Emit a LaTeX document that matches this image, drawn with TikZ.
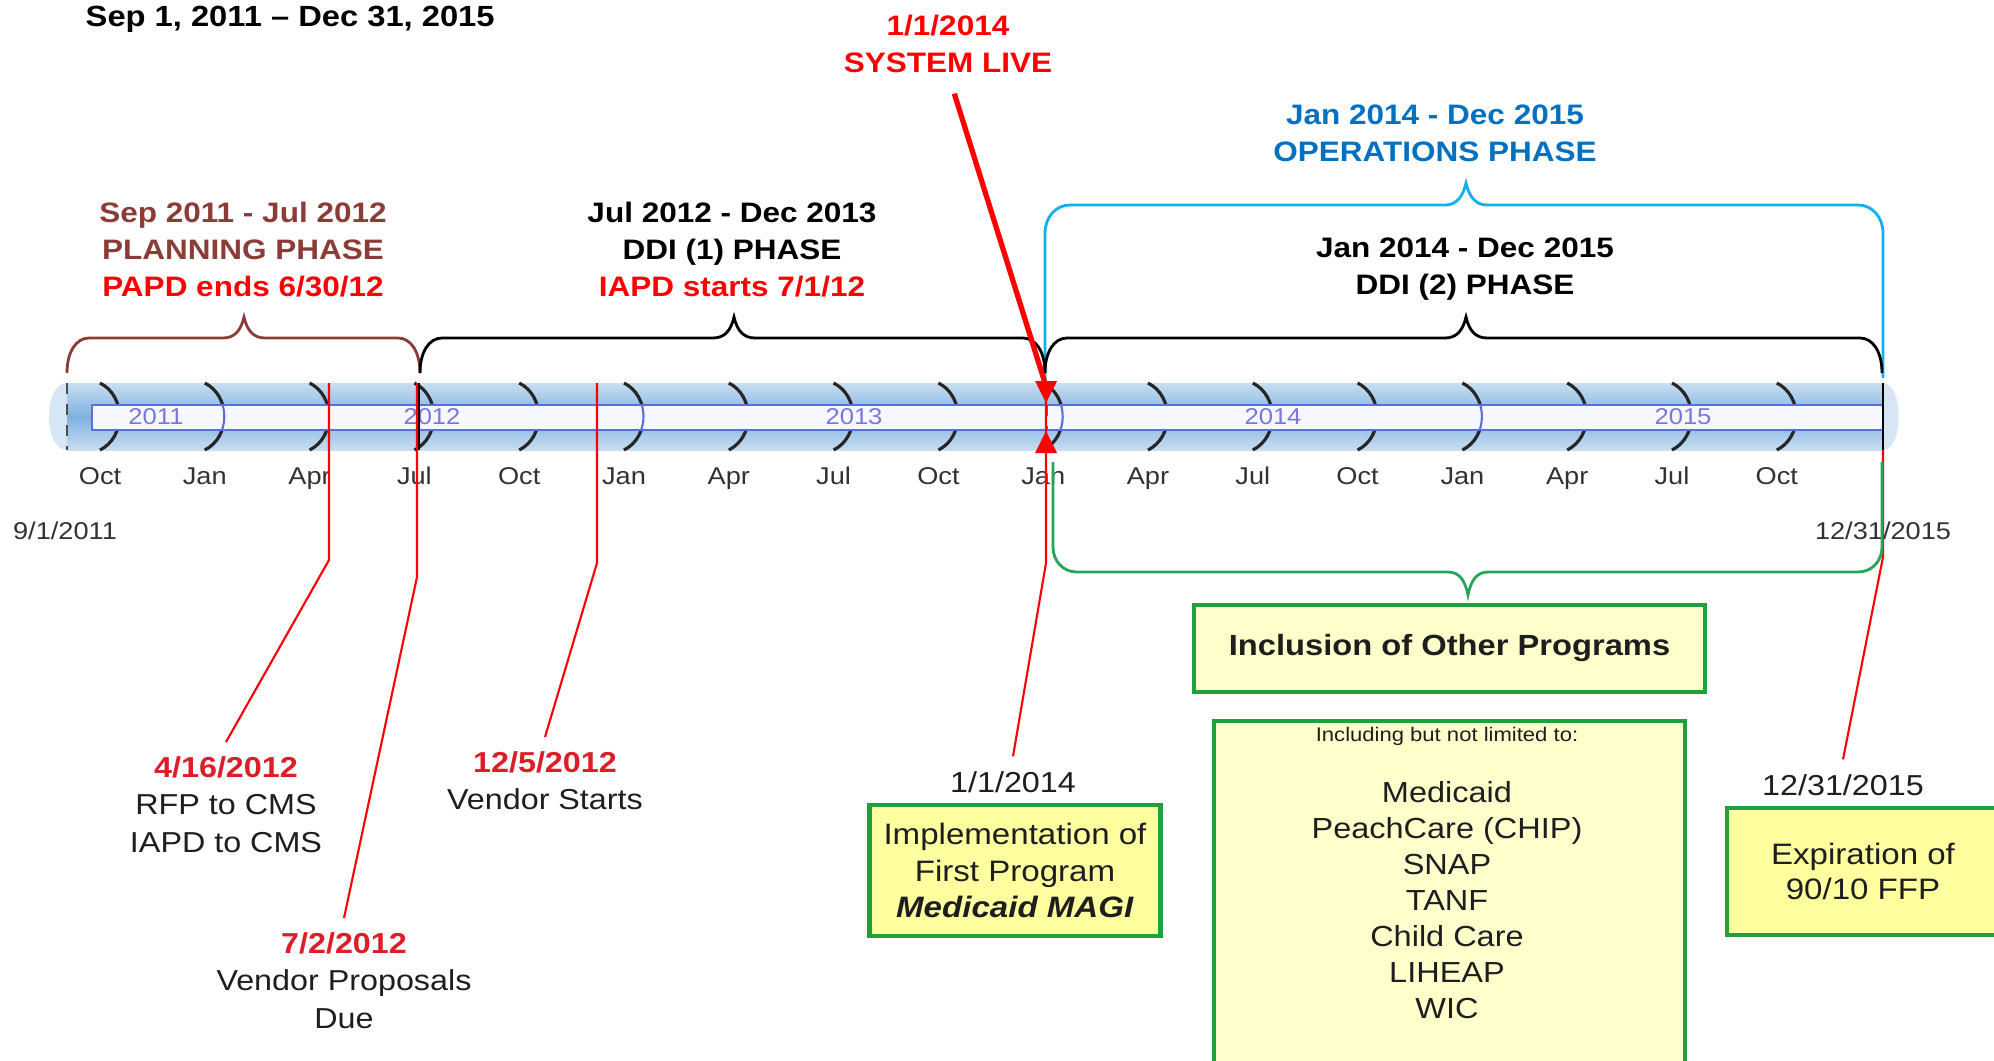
\documentclass[tikz,border=0pt]{standalone}
\usepackage{fontspec}
\setmainfont{Liberation Sans}[FakeStretch=1.12]
\usetikzlibrary{positioning}
\usetikzlibrary{calc}

\definecolor{planbrown}{RGB}{140,60,55}
\definecolor{opsline}{RGB}{20,175,238}
\definecolor{opstext}{RGB}{0,112,192}
\definecolor{incgreen}{RGB}{40,165,90}
\definecolor{boxgreen}{RGB}{30,160,60}
\definecolor{paleyellow}{RGB}{255,255,204}
\definecolor{boxyellow}{RGB}{255,255,160}
\definecolor{datered}{RGB}{220,30,40}
\definecolor{stripblue}{RGB}{90,110,220}
\definecolor{yeartext}{RGB}{120,120,220}
\definecolor{monthgray}{RGB}{50,50,50}
\definecolor{textgray}{RGB}{30,30,30}
\definecolor{barlight}{RGB}{200,222,242}
\definecolor{bardark}{RGB}{128,176,224}
\definecolor{barcap}{RGB}{214,230,244}

\newcommand{\evdate}[1]{{\color{datered}\bfseries #1}}

\begin{document}
\begin{tikzpicture}[x=0.01cm,y=-0.01cm,
        phaselbl/.style={font=\bfseries\fontsize{8}{10.5}\selectfont, align=center, inner sep=0pt, anchor=north},
        monthlbl/.style={font=\fontsize{6.9}{8}\selectfont, text=monthgray, inner sep=0pt, anchor=base},
        yearlbl/.style={font=\fontsize{6.5}{8}\selectfont, text=yeartext, inner sep=0pt, anchor=base},
        evtext/.style={font=\fontsize{8.2}{10.6}\selectfont, text=textgray, align=center, inner sep=4pt, anchor=north},
        evline/.style={red, line width=0.6pt},
        qtick/.style={black!85, line width=0.9pt},
        phasebrace/.style={draw=#1, line width=0.8pt},
        greenbox/.style={draw=boxgreen, line width=1.2pt, fill=#1, align=center, text=textgray},
    ]
    \useasboundingbox (0,0) rectangle (1994,1060);
    \clip (0,0) rectangle (1994,1060);

    % title and phase labels
    \node[font=\bfseries\fontsize{8.3}{10}\selectfont, anchor=base west, inner sep=0pt] (title) at (85,26) {Sep 1, 2011 -- Dec 31, 2015};
    \node[phaselbl, text=red] (live) at (948,14.5) {1/1/2014\\SYSTEM LIVE};
    \node[phaselbl, text=opstext] (ops) at (1435,104.5) {Jan 2014 - Dec 2015\\OPERATIONS PHASE};
    \node[phaselbl, text=planbrown] (plan) at (243,201.5) {Sep 2011 - Jul 2012\\PLANNING PHASE\\{\color{red}PAPD ends 6/30/12}};
    \node[phaselbl] (ddione) at (732,201.5) {Jul 2012 - Dec 2013\\DDI (1) PHASE\\{\color{red}IAPD starts 7/1/12}};
    \node[phaselbl] (dditwo) at (1465,237.5) {Jan 2014 - Dec 2015\\DDI (2) PHASE};

    % braces over the timeline
    \draw[phasebrace=opsline] (1045,378) -- (1045,233) .. controls (1045,217) and (1056,205) .. (1070,205)
        -- (1445,205) .. controls (1457,205) and (1463,196) .. (1466,183) .. controls (1469,196) and (1475,205) .. (1487,205)
        -- (1858,205) .. controls (1872,205) and (1883,217) .. (1883,233) -- (1883,378);
    \draw[phasebrace=planbrown] (67,373) .. controls (67,352) and (76,338) .. (89,338)
        -- (223,338) .. controls (235,338) and (241,330) .. (244,317) .. controls (247,330) and (253,338) .. (265,338)
        -- (398,338) .. controls (411,338) and (420,352) .. (420,373);
    \draw[phasebrace=black] (420,373) .. controls (420,352) and (429,338) .. (442,338)
        -- (713,338) .. controls (725,338) and (731,330) .. (734,317) .. controls (737,330) and (743,338) .. (755,338)
        -- (1023,338) .. controls (1036,338) and (1045,352) .. (1045,373);
    \draw[phasebrace=black] (1045,373) .. controls (1045,352) and (1054,338) .. (1067,338)
        -- (1445,338) .. controls (1457,338) and (1463,330) .. (1466,317) .. controls (1469,330) and (1475,338) .. (1487,338)
        -- (1860,338) .. controls (1873,338) and (1882,352) .. (1882,373);

    % timeline bar
    \fill[barcap] (67,383) .. controls (43,383) and (43,450) .. (67,450) -- cycle;
    \fill[barcap] (1883,383) .. controls (1904,383) and (1904,450) .. (1883,450) -- cycle;
    \shade[top color=barlight, bottom color=barlight, middle color=bardark] (67,383) rectangle (1883,450);
    \foreach \k in {0,...,16} {
        \pgfmathsetmacro\xm{100+104.8*\k}
        \draw[qtick] (\xm,383) .. controls (\xm+26,396) and (\xm+26,437) .. (\xm,450);
    }
    \filldraw[fill=white!97!blue, draw=stripblue, line width=0.6pt] (92,405) rectangle (1883,430);
    \begin{scope}
        \clip (92,405) rectangle (1883,430);
        \foreach \k in {1,5,9,13} {
            \pgfmathsetmacro\xm{100+104.8*\k}
            \draw[stripblue, line width=0.6pt] (\xm,383) .. controls (\xm+26,396) and (\xm+26,437) .. (\xm,450);
        }
    \end{scope}
    \foreach \yr/\xy in {2011/156,2012/432,2013/854,2014/1273,2015/1683}
        \node[yearlbl] (y\yr) at (\xy,424) {\yr};
    \draw[dashed, black!70, line width=0.7pt] (67,383) -- (67,450);
    \draw[black, line width=0.8pt] (419,383) -- (419,450);
    \draw[dashed, black!60, line width=0.5pt] (1047,405) -- (1047,430);
    \draw[black, line width=0.8pt] (1883,383) -- (1883,450);

    % month labels
    \foreach \m [count=\k from 0] in {Oct,Jan,Apr,Jul,Oct,Jan,Apr,Jul,Oct,Jan,Apr,Jul,Oct,Jan,Apr,Jul,Oct}
        \node[monthlbl] (m\k) at (100+104.8*\k,484) {\m};
    \node[monthlbl] (start) at (65,539) {9/1/2011};
    \node[monthlbl] (finish) at (1883,539) {12/31/2015};

    % system live marker
    \coordinate (golive) at (1045,383);
    \draw[red, line width=1.5pt, shorten <=6pt] (live.south) -- (golive);
    \fill[red] (1035,381) -- (1057,381) -- (1046,403) -- cycle;
    \fill[red] (1035,453) -- (1057,453) -- (1046,431) -- cycle;

    % boxes
    \node[greenbox=boxyellow, minimum width=2.91cm, minimum height=1.31cm, font=\fontsize{8.4}{10.4}\selectfont] (impl) at (1015,870.5)
        {Implementation of\\First Program\\\textbf{\textit{Medicaid MAGI}}};
    \node[greenbox=boxyellow, minimum width=2.72cm, minimum height=1.27cm, font=\fontsize{8.4}{10}\selectfont] (expire) at (1863,871.5)
        {Expiration of\\90/10 FFP};
    \node[greenbox=paleyellow, minimum width=5.11cm, minimum height=0.87cm, font=\bfseries\fontsize{8.3}{10}\selectfont] (incl) at (1449.5,648.5)
        {Inclusion of Other Programs};
    \node[greenbox=paleyellow, anchor=north, minimum width=4.71cm, minimum height=3.8cm] (progs) at (1449.5,719) {};
    \node[font=\fontsize{5.6}{7}\selectfont, text=textgray, anchor=base, inner sep=0pt] (notlim) at (1447,741) {Including but not limited to:};
    \node[font=\fontsize{8.25}{10.24}\selectfont, text=textgray, align=center, anchor=north, inner sep=0pt] (plist) at (1447,781)
        {Medicaid\\PeachCare (CHIP)\\SNAP\\TANF\\Child Care\\LIHEAP\\WIC};

    % event labels
    \node[evtext] (d1) at (226,742) {\evdate{4/16/2012}\\RFP to CMS\\IAPD to CMS};
    \node[evtext] (d2) at (344,918) {\evdate{7/2/2012}\\Vendor Proposals\\Due};
    \node[evtext] (d3) at (545,737) {\evdate{12/5/2012}\\Vendor Starts};
    \node[evtext, anchor=south, above=-1.2pt of impl, xshift=-0.02cm] (d4) {1/1/2014};
    \node[evtext, anchor=south, above=-1.2pt of expire, xshift=-0.2cm] (d5) {12/31/2015};

    % event connectors
    \coordinate (e1) at (329,383); \coordinate (b1) at (329,560);
    \coordinate (e2) at (417,383); \coordinate (b2) at (417,577);
    \coordinate (e3) at (597,383); \coordinate (b3) at (597,563);
    \coordinate (e4) at (1046,383); \coordinate (b4) at (1046,563);
    \coordinate (e5) at (1883,450); \coordinate (b5) at (1883,557);
    \draw[evline] (e1) -- (b1) -- (d1.north);
    \draw[evline] (e2) -- (b2) -- (d2.north);
    \draw[evline] (e3) -- (b3) -- (d3.north);
    \draw[evline] (e4) -- (b4) -- (d4.north);
    \draw[evline] (e5) -- (b5) -- (d5.north);

    % brace under the timeline
    \draw[incgreen, line width=0.8pt] (1053,462) -- (1053,547) .. controls (1053,561) and (1063,572) .. (1077,572)
        -- (1448,572) .. controls (1459,572) and (1465,580) .. (1468,595) .. controls (1471,580) and (1477,572) .. (1488,572)
        -- (1858,572) .. controls (1872,572) and (1882,561) .. (1882,547) -- (1882,462);
\end{tikzpicture}
\end{document}
